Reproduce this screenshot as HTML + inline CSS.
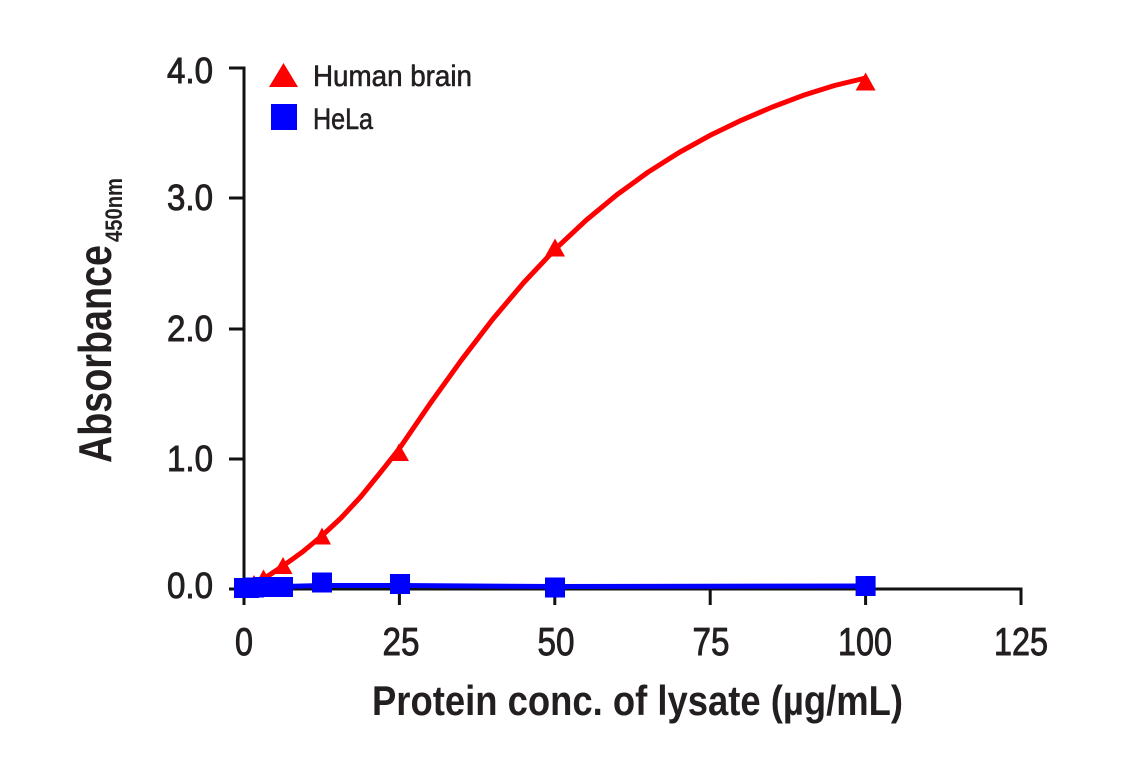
<!DOCTYPE html>
<html>
<head>
<meta charset="utf-8">
<style>
  html, body { margin: 0; padding: 0; background: #ffffff; }
  body { width: 1141px; height: 768px; overflow: hidden; }
  svg { display: block; }
  text { font-family: "Liberation Sans", Arial, sans-serif; fill: #231f20; }
</style>
</head>
<body>
<svg width="1141" height="768" viewBox="0 0 1141 768" xmlns="http://www.w3.org/2000/svg">
  <rect x="0" y="0" width="1141" height="768" fill="#ffffff"/>

  <!-- Axes -->
  <g stroke="#111" stroke-width="3" fill="none" stroke-linecap="butt">
    <line x1="244" y1="66.5" x2="244" y2="590.5"/>
    <line x1="242.5" y1="589" x2="1022.5" y2="589"/>
    <line x1="229" y1="68" x2="244" y2="68"/>
    <line x1="229" y1="198" x2="244" y2="198"/>
    <line x1="229" y1="329" x2="244" y2="329"/>
    <line x1="229" y1="459" x2="244" y2="459"/>
    <line x1="229" y1="589" x2="244" y2="589"/>
    <line x1="244" y1="589" x2="244" y2="605"/>
    <line x1="399.4" y1="589" x2="399.4" y2="605"/>
    <line x1="554.8" y1="589" x2="554.8" y2="605"/>
    <line x1="710.2" y1="589" x2="710.2" y2="605"/>
    <line x1="865.6" y1="589" x2="865.6" y2="605"/>
    <line x1="1021" y1="589" x2="1021" y2="605"/>
  </g>

  <!-- Y tick labels -->
  <g font-size="36" stroke="#231f20" stroke-width="0.9">
    <text x="167" y="83" textLength="46" lengthAdjust="spacingAndGlyphs">4.0</text>
    <text x="167" y="210" textLength="46" lengthAdjust="spacingAndGlyphs">3.0</text>
    <text x="167" y="341" textLength="46" lengthAdjust="spacingAndGlyphs">2.0</text>
    <text x="167" y="471" textLength="46" lengthAdjust="spacingAndGlyphs">1.0</text>
    <text x="167" y="598" textLength="46" lengthAdjust="spacingAndGlyphs">0.0</text>
  </g>

  <!-- X tick labels -->
  <g font-size="39" stroke="#231f20" stroke-width="0.9">
    <text x="235" y="655" textLength="18" lengthAdjust="spacingAndGlyphs">0</text>
    <text x="382.5" y="655" textLength="37" lengthAdjust="spacingAndGlyphs">25</text>
    <text x="537.5" y="655" textLength="37" lengthAdjust="spacingAndGlyphs">50</text>
    <text x="692.5" y="655" textLength="37" lengthAdjust="spacingAndGlyphs">75</text>
    <text x="838" y="655" textLength="54" lengthAdjust="spacingAndGlyphs">100</text>
    <text x="994" y="655" textLength="54" lengthAdjust="spacingAndGlyphs">125</text>
  </g>

  <!-- Axis titles -->
  <text x="372" y="715" font-size="42" font-weight="bold" textLength="531" lengthAdjust="spacingAndGlyphs">Protein conc. of lysate (µg/mL)</text>
  <text transform="translate(111,463) rotate(-90)" font-size="46" font-weight="bold" textLength="218" lengthAdjust="spacingAndGlyphs">Absorbance</text>
  <text transform="translate(122,242) rotate(-90)" font-size="24" font-weight="bold" textLength="64" lengthAdjust="spacingAndGlyphs">450nm</text>

  <!-- Legend -->
  <polygon points="283.5,63 298,87 269,87" fill="#ff0000"/>
  <rect x="271" y="104" width="26" height="26" fill="#0000ff"/>
  <g font-size="30" stroke="#231f20" stroke-width="0.6">
    <text x="313" y="86" textLength="159" lengthAdjust="spacingAndGlyphs">Human brain</text>
    <text x="313" y="129" textLength="60" lengthAdjust="spacingAndGlyphs">HeLa</text>
  </g>

  <!-- Human brain curve -->
  <polyline points="244,588 253.7,584.5 263.4,579 282.9,566 302.4,552 321.7,536 341,518 360.5,497 380,473 399.4,448.5 430.5,403.1 461.6,359.8 492.6,319.4 523.7,282.6 554.8,249.6 585.9,220.4 617,194.7 648,172.2 679.1,152.5 710.2,135.3 741.3,120.3 772.4,107 803.4,95.3 834.5,85.5 865.6,78"
        fill="none" stroke="#ff0000" stroke-width="5" stroke-linecap="round" stroke-linejoin="round"/>
  <g fill="#ff0000">
    <polygon points="865.6,72.5 875.6,90.5 855.6,90.5"/>
    <polygon points="555,238.5 565,256.5 545,256.5"/>
    <polygon points="399,443.5 409,461 389,461"/>
    <polygon points="322,527.5 331,544.5 313,544.5"/>
    <polygon points="283,557 292.5,574 273.5,574"/>
    <polygon points="263.5,569.5 273,586.5 254,586.5"/>
    <polygon points="254,575 263,591 245,591"/>
  </g>

  <!-- HeLa line -->
  <polyline points="244,587.5 322,585.5 400,585.5 555,586.5 865.6,586" fill="none" stroke="#0000ff" stroke-width="5"/>
  <g fill="#0000ff">
    <rect x="234" y="578" width="20" height="20"/>
    <rect x="239" y="578" width="20" height="20"/>
    <rect x="244" y="577.5" width="20" height="20"/>
    <rect x="253.5" y="577" width="20" height="20"/>
    <rect x="273" y="577" width="20" height="20"/>
    <rect x="312" y="572.5" width="20" height="20"/>
    <rect x="390" y="574" width="20" height="20"/>
    <rect x="545" y="577.5" width="20" height="20"/>
    <rect x="855.6" y="576" width="20" height="20"/>
  </g>
</svg>
</body>
</html>
